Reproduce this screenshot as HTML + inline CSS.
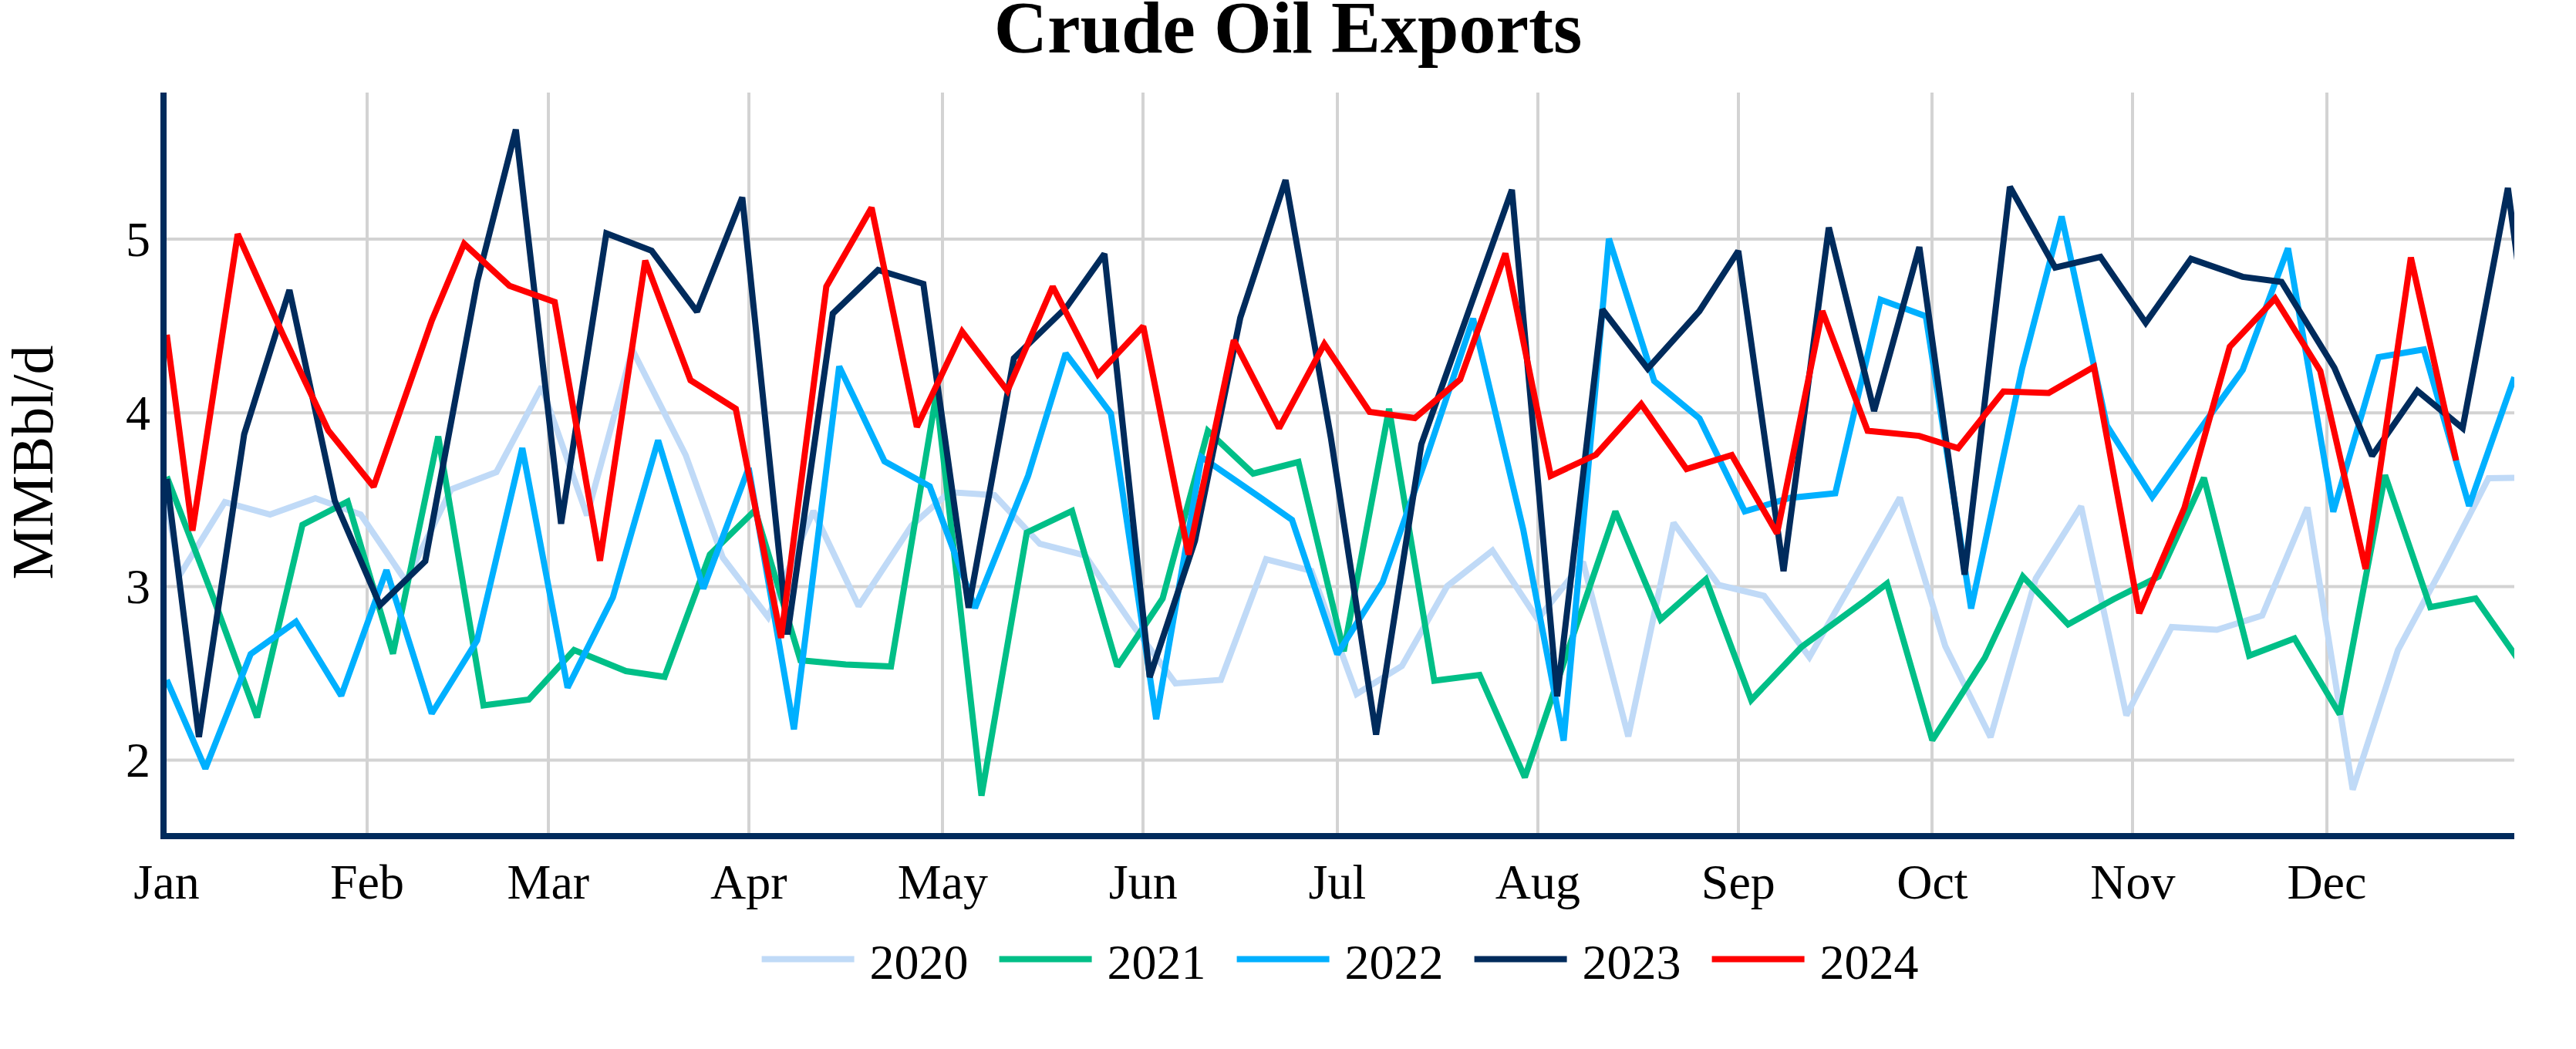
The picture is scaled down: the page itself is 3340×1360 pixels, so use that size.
<!DOCTYPE html>
<html><head><meta charset="utf-8"><title>Crude Oil Exports</title>
<style>
html,body{margin:0;padding:0;background:#fff;}
body{width:3340px;height:1360px;overflow:hidden;}
svg{display:block}
text{font-family:"Liberation Serif","Times New Roman",Times,serif;fill:#000}
.tk{font-size:64px}
.ln{fill:none;stroke-width:8;stroke-linejoin:miter;stroke-miterlimit:2;stroke-linecap:butt}
.g{stroke:#d3d3d3;stroke-width:4;fill:none}
</style></head><body>
<svg width="3340" height="1360" viewBox="0 0 3340 1360">
<rect width="3340" height="1360" fill="#fff"/>
<defs><clipPath id="cp"><rect x="216" y="120" width="3044" height="960"/></clipPath></defs>

<g class="g">
<path d="M476,120V1080"/>
<path d="M711,120V1080"/>
<path d="M971,120V1080"/>
<path d="M1222,120V1080"/>
<path d="M1482,120V1080"/>
<path d="M1734,120V1080"/>
<path d="M1994,120V1080"/>
<path d="M2254,120V1080"/>
<path d="M2505,120V1080"/>
<path d="M2765,120V1080"/>
<path d="M3017,120V1080"/>
<path d="M216,310H3260"/>
<path d="M216,535.3H3260"/>
<path d="M216,760.4H3260"/>
<path d="M216,985.5H3260"/>
</g>
<g clip-path="url(#cp)">
<polyline class="ln" stroke="#c0daf7" points="216.2,650.0 232.8,746.0 291.5,651.0 350.2,667.0 408.9,646.0 467.6,667.0 526.3,753.5 585.0,634.5 643.7,612.0 702.4,501.4 761.1,668.2 819.8,453.2 889.0,590 937.2,723.0 995.9,800.0 1054.6,662.5 1113.3,785.7 1181.8,681.6 1230.7,638.0 1289.4,642.0 1348.1,705.0 1406.8,720.0 1465.5,806.0 1524.2,886.0 1582.9,881.5 1641.6,725.0 1700.3,740.0 1759.0,899.7 1817.7,863.5 1876.4,760.0 1935.1,713.8 1993.8,803.0 2052.5,728.4000000000001 2111.2,954.7 2169.9,677.8000000000001 2228.6,758.5 2287.3,772.5 2346.0,852.0 2404.7,749.5 2463.4,645.1 2522.1,837.5 2580.9,955.7 2639.6,750.0 2698.3,656.5 2757.0,927.5 2815.7,813.0 2874.4,816.5 2933.1,798.0 2991.8,658.0 3050.5,1023.7 3109.2,842.5 3167.9,733.5 3226.6,620 3285.3,619"/>
<polyline class="ln" stroke="#00bf87" points="216.2,618.0 274.7,770.0 333.4,930.0 392.1,680.5 450.8,650.2 509.5,847.5 568.2,565.8000000000001 626.9,914.5 685.6,907.0 744.3,842.7 811.5,870 861.7,877.5 920.4,719.0 979.1,661.5 1037.8,856.0 1096.5,861.5 1155.2,864.0 1213.9,511.3 1272.6,1031.6 1331.3,690.5 1390.0,662.5 1448.7,864.0 1507.4,776.0 1566.1,558.7 1624.8,614.0 1683.5,599.0 1742.3,844.2 1801.0,530.0 1859.7,882.5 1918.4,875.0 1977.1,1007.8 2035.8,835.0 2094.5,663.0 2153.2,803.0 2211.9,751.0 2270.6,907.5 2335.8,838.7 2420.6,776.7 2446.7,756.5 2505.4,959.7 2573.6,852.6 2622.8,747.5 2681.5,809.5 2740.2,777.0 2798.9,747.5 2857.6,619.5 2916.3,850.1 2975.0,827.8 3033.7,926.0 3092.4,616.0 3151.1,787.2 3209.8,775.8 3268.5,860"/>
<polyline class="ln" stroke="#00b0ff" points="216.2,881.5 266.3,996.5 325.0,848.0 383.7,806.0 442.4,902 501.1,739.2 559.8,925 618.5,830.5 677.2,581.0 735.9,891.5 794.6,774.5 853.3,570.8000000000001 912.0,763.0 970.7,606.7 1029.4,945.5 1088.1,475.09999999999997 1146.8,598.0 1205.5,630.5 1264.2,788.2 1333.0,617 1381.7,458.2 1440.4,536.0 1499.1,932.4 1557.8,592.5 1633.0,644.4 1675.2,674.0 1733.9,848.1 1792.6,755.0 1851.3,588.0 1910.0,413.09999999999997 1975.0,686.5 2027.4,960.2 2086.1,309.5 2144.8,494.0 2203.5,542.5 2262.2,663.0 2320.9,645.5 2379.6,639.5 2438.3,388.6 2497.0,410.0 2555.7,789.0 2622.0,477 2673.1,280.7 2731.8,552.0 2790.5,644.4 2849.2,561.0 2907.9,479.5 2966.6,321.9 3025.3,663.5 3084.0,463.0 3142.7,453.0 3201.4,655.8 3260.1,489.0"/>
<polyline class="ln" stroke="#002b5c" points="216.2,621.0 257.9,955.5 316.6,563.0 375.3,376.0 434.0,649.0 492.7,784.5 551.4,727.5 618.8,365 668.8,168.0 727.5,679.0 786.2,302.4 844.9,325.0 903.7,404.0 962.4,256.0 1021.1,822.5 1079.8,406.5 1138.5,350.0 1197.2,368.0 1255.9,788.0 1314.6,464.5 1383.0,398 1432.0,329.09999999999997 1490.7,877.9 1549.4,701.0 1608.1,412.0 1666.8,233.4 1725.5,567.0 1784.2,952.3 1842.9,576.0 1901.6,411.0 1960.3,246.0 2019.0,902.7 2077.7,401.2 2136.4,477.9 2203.3,403.5 2253.8,325.4 2312.5,740.5 2371.2,295.0 2429.9,532.9 2488.6,320.4 2547.3,745.0 2606.0,242.1 2664.7,347.0 2723.4,333.0 2782.1,418.4 2840.8,335.6 2907.7,358.9 2958.2,365.5 3026.7,476.9 3075.6,591.0 3134.3,506.6 3193.0,555.0 3251.7,243.7 3310.4,690"/>
<polyline class="ln" stroke="#ff0000" points="216.2,434.0 249.5,688.0 308.2,303.5 366.9,434.0 425.6,558.0 484.4,631.0 559.9,415.5 601.8,316.0 660.5,370.5 719.2,391.5 777.9,727.0 836.6,337.8 895.3,493.0 954.0,530.0 1012.7,827.0 1071.4,371.5 1130.1,269.3 1188.8,553.5 1247.5,430.0 1306.2,506.6 1364.9,371.5 1423.6,485.5 1482.3,423.0 1541.0,719.0 1599.7,441.0 1658.4,555.0 1717.1,446.0 1775.8,534.0 1834.5,542.0 1893.2,492.0 1951.9,328.6 2010.6,616.9 2069.3,589.5 2128.0,524.0 2186.7,608.0 2245.4,589.9 2304.1,691.5 2362.8,403.2 2421.5,558.5 2488.3,565.1 2538.9,581.0 2597.6,507.5 2656.3,509.5 2715.0,475.5 2773.7,795.0 2832.4,658.0 2891.1,449.5 2949.8,387.0 3008.5,481.0 3067.2,737.5 3125.9,333.8 3184.6,597.0"/>
</g>
<path d="M212,120V1088" stroke="#002b5c" stroke-width="8" fill="none"/>
<path d="M208,1084H3260" stroke="#002b5c" stroke-width="8" fill="none"/>
<text class="tk" x="216.0" y="1165" text-anchor="middle">Jan</text>
<text class="tk" x="476.0" y="1165" text-anchor="middle">Feb</text>
<text class="tk" x="710.8" y="1165" text-anchor="middle">Mar</text>
<text class="tk" x="970.7" y="1165" text-anchor="middle">Apr</text>
<text class="tk" x="1222.3" y="1165" text-anchor="middle">May</text>
<text class="tk" x="1482.3" y="1165" text-anchor="middle">Jun</text>
<text class="tk" x="1733.9" y="1165" text-anchor="middle">Jul</text>
<text class="tk" x="1993.8" y="1165" text-anchor="middle">Aug</text>
<text class="tk" x="2253.8" y="1165" text-anchor="middle">Sep</text>
<text class="tk" x="2505.4" y="1165" text-anchor="middle">Oct</text>
<text class="tk" x="2765.3" y="1165" text-anchor="middle">Nov</text>
<text class="tk" x="3016.9" y="1165" text-anchor="middle">Dec</text>
<text class="tk" x="195" y="331.8" text-anchor="end">5</text>
<text class="tk" x="195" y="557.1" text-anchor="end">4</text>
<text class="tk" x="195" y="782.2" text-anchor="end">3</text>
<text class="tk" x="195" y="1007.3" text-anchor="end">2</text>
<text x="1670" y="67.5" text-anchor="middle" font-size="96" font-weight="bold">Crude Oil Exports</text>
<text transform="translate(68.2,599.5) rotate(-90)" text-anchor="middle" font-size="76">MMBbl/d</text>
<path d="M987.6,1243.5h120" stroke="#c0daf7" stroke-width="8" fill="none"/>
<text class="tk" x="1127.6" y="1269">2020</text>
<path d="M1295.6,1243.5h120" stroke="#00bf87" stroke-width="8" fill="none"/>
<text class="tk" x="1435.6" y="1269">2021</text>
<path d="M1603.6,1243.5h120" stroke="#00b0ff" stroke-width="8" fill="none"/>
<text class="tk" x="1743.6" y="1269">2022</text>
<path d="M1911.6,1243.5h120" stroke="#002b5c" stroke-width="8" fill="none"/>
<text class="tk" x="2051.6" y="1269">2023</text>
<path d="M2219.6,1243.5h120" stroke="#ff0000" stroke-width="8" fill="none"/>
<text class="tk" x="2359.6" y="1269">2024</text>
</svg></body></html>
